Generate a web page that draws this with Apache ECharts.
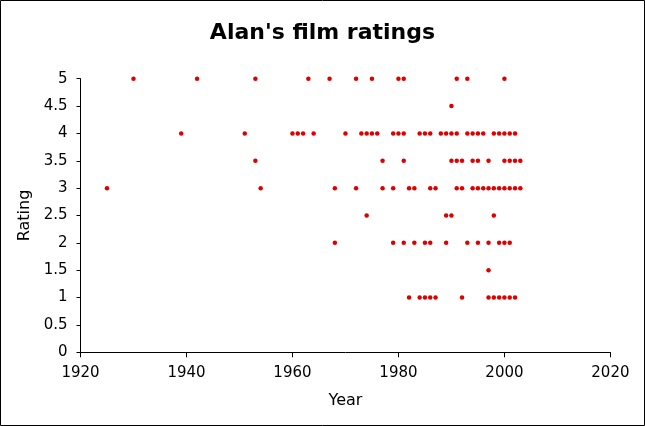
<!DOCTYPE html>
<html><head><meta charset="utf-8">
<script src="https://cdn.jsdelivr.net/npm/echarts@6/dist/echarts.min.js"></script>
<style>html,body{margin:0;padding:0;background:#fff}#c{width:645px;height:426px}</style>
</head><body><div id="c"></div>
<script>
const title = "Alan's film ratings";
const xName = "Year";
const yName = "Rating";
const ratings = [5, 4.5, 4, 3.5, 3, 2.5, 2, 1.5, 1];
const years5 = [1930, 1942, 1953, 1963, 1967, 1972, 1975, 1980, 1981, 1991, 1993, 2000];
const years4_5 = [1990];
const years4 = [1939, 1951, 1960, 1961, 1962, 1964, 1970, 1973, 1974, 1975, 1976, 1979, 1980, 1981, 1984, 1985, 1986, 1988, 1989, 1990, 1991, 1993, 1994, 1995, 1996, 1998, 1999, 2000, 2001, 2002];
const years3_5 = [1953, 1977, 1981, 1990, 1991, 1992, 1994, 1995, 1997, 2000, 2001, 2002, 2003];
const years3 = [1925, 1954, 1968, 1972, 1977, 1979, 1982, 1983, 1986, 1987, 1991, 1992, 1994, 1995, 1996, 1997, 1998, 1999, 2000, 2001, 2002, 2003];
const years2_5 = [1974, 1989, 1990, 1998];
const years2 = [1968, 1979, 1981, 1983, 1985, 1986, 1989, 1993, 1995, 1997, 1999, 2000, 2001];
const years1_5 = [1997];
const years1 = [1982, 1984, 1985, 1986, 1987, 1992, 1997, 1998, 1999, 2000, 2001, 2002];
const yearsByRating = [years5, years4_5, years4, years3_5, years3, years2_5, years2, years1_5, years1];

const points = [];
ratings.forEach((r, i) => yearsByRating[i].forEach(y => points.push([y, r])));

const font = 'DejaVu Sans';
const chart = echarts.init(document.getElementById('c'));
chart.setOption({
  animation: false,
  backgroundColor: '#fff',
  title: { text: title, left: 'center', top: 17, textStyle: { fontFamily: font, fontWeight: 'bold', fontSize: 22, color: '#000' } },
  grid: { left: 80.5, right: 34.6, top: 78.7, bottom: 73.7, containLabel: false },
  xAxis: {
    type: 'value', min: 1920, max: 2020, interval: 20,
    name: xName, nameLocation: 'middle', nameGap: 41,
    nameTextStyle: { fontFamily: font, fontSize: 16, color: '#000' },
    axisLine: { lineStyle: { color: '#000', width: 1 } },
    axisTick: { inside: false, length: 5, lineStyle: { color: '#000' } },
    axisLabel: { fontFamily: font, fontSize: 15, color: '#000', margin: 13, formatter: v => String(v) },
    splitLine: { show: false }
  },
  yAxis: {
    type: 'value', min: 0, max: 5, interval: 0.5,
    name: yName, nameLocation: 'middle', nameGap: 44, nameRotate: 90,
    nameTextStyle: { fontFamily: font, fontSize: 16, color: '#000' },
    axisLine: { show: true, lineStyle: { color: '#000', width: 1 } },
    axisTick: { show: true, inside: false, length: 4, lineStyle: { color: '#000' } },
    axisLabel: { fontFamily: font, fontSize: 15, color: '#000', margin: 13 },
    splitLine: { show: false }
  },
  series: [{
    type: 'scatter', data: points, symbol: 'circle', symbolSize: 4.5,
    itemStyle: { color: '#dd0000', opacity: 1 }
  }],
  graphic: [{ type: 'rect', shape: { x: 0.5, y: 0.5, width: 644, height: 425 }, style: { fill: 'none', stroke: '#000', lineWidth: 1 }, silent: true }]
});
</script></body></html>
